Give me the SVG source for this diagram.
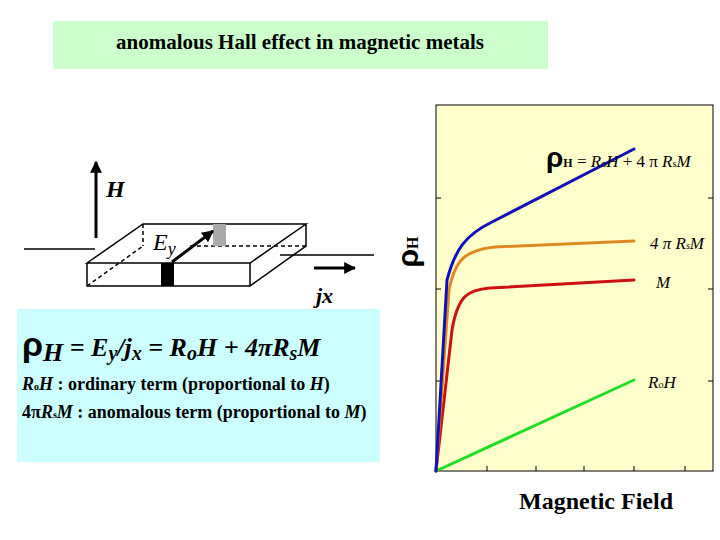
<svg xmlns="http://www.w3.org/2000/svg" width="720" height="540" viewBox="0 0 720 540">
<style>
text{font-family:'Liberation Serif','Times New Roman',serif;fill:#000}
.s{font-family:'Liberation Sans',Arial,sans-serif}
.c{fill:none;stroke-width:3;stroke-linecap:round}
.k{stroke:#000;stroke-width:1.5;fill:none}
</style>
<defs><marker id="a" viewBox="0 0 10 10" refX="9" refY="5" markerWidth="4" markerHeight="4" orient="auto"><path d="M0 0L10 5L0 10z" fill="#000"/></marker></defs>
<rect width="720" height="540" fill="#fff"/>
<g id="title"><rect x="53" y="21" width="495" height="48" fill="#ccffcc"/><text x="300" y="49" text-anchor="middle" font-size="21" font-weight="bold">anomalous Hall effect in magnetic metals</text></g>
<g id="plot">
<rect x="436" y="105" width="277" height="366" fill="#ffffcc" stroke="#000" stroke-width="1"/>
<path d="M436 198h5M436 289h5M436 381h5M713 198h-5M713 289h-5M713 381h-5M487 471v-5M536 471v-5M584 471v-5M634 471v-5M685 471v-5" stroke="#000"/>
<path class="c" stroke="#22dd22" d="M436 471L634 380"/>
<path class="c" stroke="#cc1111" d="M436 471L452 330C458 295 468 290 490 288L634 280"/>
<path class="c" stroke="#e08820" d="M436 471L449 290C455 260 465 250 495 247L634 241"/>
<path class="c" stroke="#1111bb" d="M436 471L447 280C455 250 465 235 492 222L634 149"/>
<text x="546" y="167" font-size="17"><tspan class="s" font-size="28" font-weight="bold">ρ</tspan><tspan font-size="12" font-weight="bold">H</tspan> = <tspan font-style="italic">R</tspan><tspan font-size="10">o</tspan><tspan font-style="italic">H</tspan> + 4 π <tspan font-style="italic">R</tspan><tspan font-size="10">s</tspan><tspan font-style="italic">M</tspan></text>
<text x="650" y="249" font-size="17" font-style="italic">4 π R<tspan font-size="10">s</tspan>M</text>
<text x="656" y="288" font-size="17" font-style="italic">M</text>
<text x="648" y="388" font-size="17" font-style="italic">R<tspan font-size="10">o</tspan>H</text>
<text x="596" y="509" font-size="24" font-weight="bold" text-anchor="middle">Magnetic Field</text>
<text transform="translate(418,252) rotate(-90)" font-size="16" font-weight="bold" text-anchor="middle"><tspan class="s" font-size="30">ρ</tspan><tspan>H</tspan></text>
</g>
<g id="slab">
<path class="k" d="M24 249H95M280 255H374"/>
<path class="k" d="M87 263L143 224H306L250 263ZM87 263V286H250V263M250 286L306 246V224"/>
<path class="k" stroke-dasharray="4 3" d="M87 286L143 246M190 246H306M143 224V246"/>
<rect x="161" y="263" width="13" height="23" fill="#000"/>
<rect x="213" y="224" width="13" height="22" fill="#aaa"/>
<path stroke="#000" stroke-width="3" d="M172 262L213 231" marker-end="url(#a)"/>
<path stroke="#000" stroke-width="3" d="M96 238V162" marker-end="url(#a)"/>
<path stroke="#000" stroke-width="3" d="M314 268H355" marker-end="url(#a)"/>
<text x="106" y="197" font-size="24" font-weight="bold" font-style="italic">H</text>
<text x="153" y="250" font-size="24" font-style="italic">E<tspan font-size="18" dy="5">y</tspan></text>
<text x="316" y="303" font-size="22" font-weight="bold" font-style="italic">jx</text>
</g>
<g id="formula">
<rect x="17" y="309" width="363" height="153" fill="#ccffff"/>
<text x="22" y="356" font-size="26" font-style="italic" font-weight="bold"><tspan class="s" font-style="normal" font-size="34">ρ</tspan><tspan dy="5">H</tspan><tspan dy="-5"> = E</tspan><tspan dy="4" font-size="20">y</tspan><tspan dy="-4">/j</tspan><tspan dy="4" font-size="20">x</tspan><tspan dy="-4"> = R</tspan><tspan dy="4" font-size="20">o</tspan><tspan dy="-4">H + 4πR</tspan><tspan dy="4" font-size="20">s</tspan><tspan dy="-4">M</tspan></text>
<text x="22" y="390" font-size="18" font-weight="bold"><tspan font-style="italic">R</tspan><tspan font-size="10">o</tspan><tspan font-style="italic">H</tspan> :  ordinary term (proportional to <tspan font-style="italic">H</tspan>)</text>
<text x="22" y="418" font-size="18" font-weight="bold">4π<tspan font-style="italic">R</tspan><tspan font-size="10">s</tspan><tspan font-style="italic">M</tspan> : anomalous term (proportional to <tspan font-style="italic">M</tspan>)</text>
</g>
</svg>
